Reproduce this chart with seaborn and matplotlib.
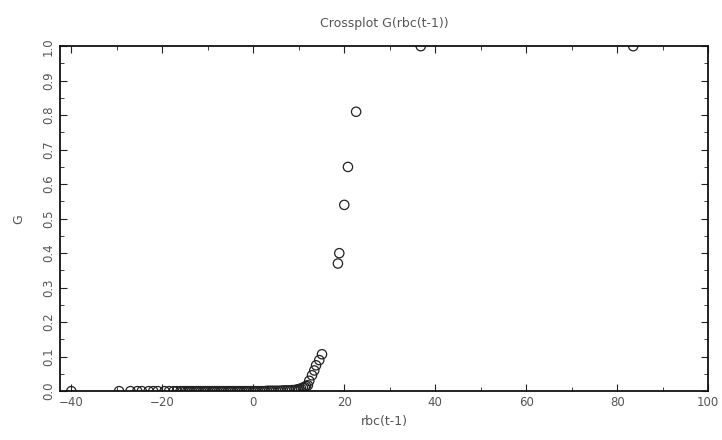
import matplotlib
matplotlib.use("Agg")
import matplotlib.pyplot as plt
import seaborn as sns
import pandas as pd
from matplotlib.ticker import MultipleLocator

# Data (rbc(t-1) vs G)
rbc = [-40.0, -29.5, -27.0, -25.5, -24.5, -23.0, -22.0, -21.0, -19.5, -18.5,
       -17.5, -16.8, -16.0, -15.5, -15.0, -14.5, -14.0, -13.5, -13.0, -12.5,
       -12.0, -11.5, -11.0, -10.5, -10.0, -9.5, -9.0, -8.5, -8.0, -7.5,
       -7.0, -6.5, -6.0, -5.5, -5.0, -4.5, -4.0, -3.5, -3.0, -2.5,
       -2.0, -1.5, -1.0, -0.5, 0.0, 0.5, 1.0, 1.5, 2.0, 2.5,
       3.0, 3.5, 4.0, 4.5, 5.0, 5.5, 6.0, 6.5, 7.0, 7.5,
       8.0, 8.5, 9.0, 9.4, 9.8, 10.1, 10.5, 10.9, 11.3, 11.6,
       12.0, 12.3, 12.9, 13.4, 13.8, 14.5, 15.1,
       18.6, 18.9, 20.0, 20.8, 22.6, 36.8, 83.5]
G = [0.000, 0.000, 0.000, 0.000, 0.000, 0.000, 0.000, 0.000, 0.000, 0.000,
     0.000, 0.000, 0.000, 0.000, 0.000, 0.000, 0.000, 0.000, 0.000, 0.000,
     0.000, 0.000, 0.000, 0.000, 0.000, 0.000, 0.000, 0.000, 0.000, 0.000,
     0.000, 0.000, 0.000, 0.000, 0.000, 0.000, 0.000, 0.000, 0.000, 0.000,
     0.000, 0.000, 0.000, 0.000, 0.000, 0.000, 0.000, 0.000, 0.000, 0.000,
     0.001, 0.001, 0.001, 0.001, 0.001, 0.001, 0.001, 0.002, 0.002, 0.002,
     0.002, 0.003, 0.003, 0.004, 0.005, 0.006, 0.008, 0.010, 0.012, 0.015,
     0.017, 0.030, 0.046, 0.060, 0.075, 0.090, 0.107,
     0.370, 0.400, 0.540, 0.650, 0.810, 1.000, 1.000]

title = "Crossplot G(rbc(t-1))"
xlabel = "rbc(t-1)"
ylabel = "G"

df = pd.DataFrame({"rbc": rbc, "G": G})

sns.set_theme(style="white")
plt.rcParams["font.family"] = ["DejaVu Sans"]

fig = plt.figure(figsize=(7.22, 4.40), dpi=100)
ax = fig.add_axes([0.083, 0.111, 0.898, 0.784])

sns.scatterplot(data=df, x="rbc", y="G", ax=ax, marker="o",
                facecolor="none", edgecolor="#222222", linewidth=0.9, s=45)

ax.set_xlim(-42.5, 100)
ax.xaxis.set_major_locator(MultipleLocator(20))
ax.xaxis.set_minor_locator(MultipleLocator(10))
ax.yaxis.set_minor_locator(MultipleLocator(0.05))

txt = "#555555"
ax.tick_params(axis="both", which="both", direction="in", top=True, right=True,
               bottom=True, left=True, colors="#222222", labelcolor=txt, labelsize=8.5)
ax.tick_params(which="major", length=5, width=0.8)
ax.tick_params(which="minor", length=3, width=0.6)
yt = [i / 10 for i in range(11)]
ax.set_yticks(yt)
ax.set_yticklabels([f"{v:.1f}" for v in yt], rotation=90, va="center")
ax.set_ylim(0, 1.0)

for s in ax.spines.values():
    s.set_color("#111111")
    s.set_linewidth(1.3)

ax.set_title(title, color=txt, fontsize=9, pad=14)
ax.set_xlabel(xlabel, color=txt, fontsize=9, labelpad=4)
ax.set_ylabel(ylabel, color=txt, fontsize=9, labelpad=12)

fig.savefig("out.png", dpi=100)
